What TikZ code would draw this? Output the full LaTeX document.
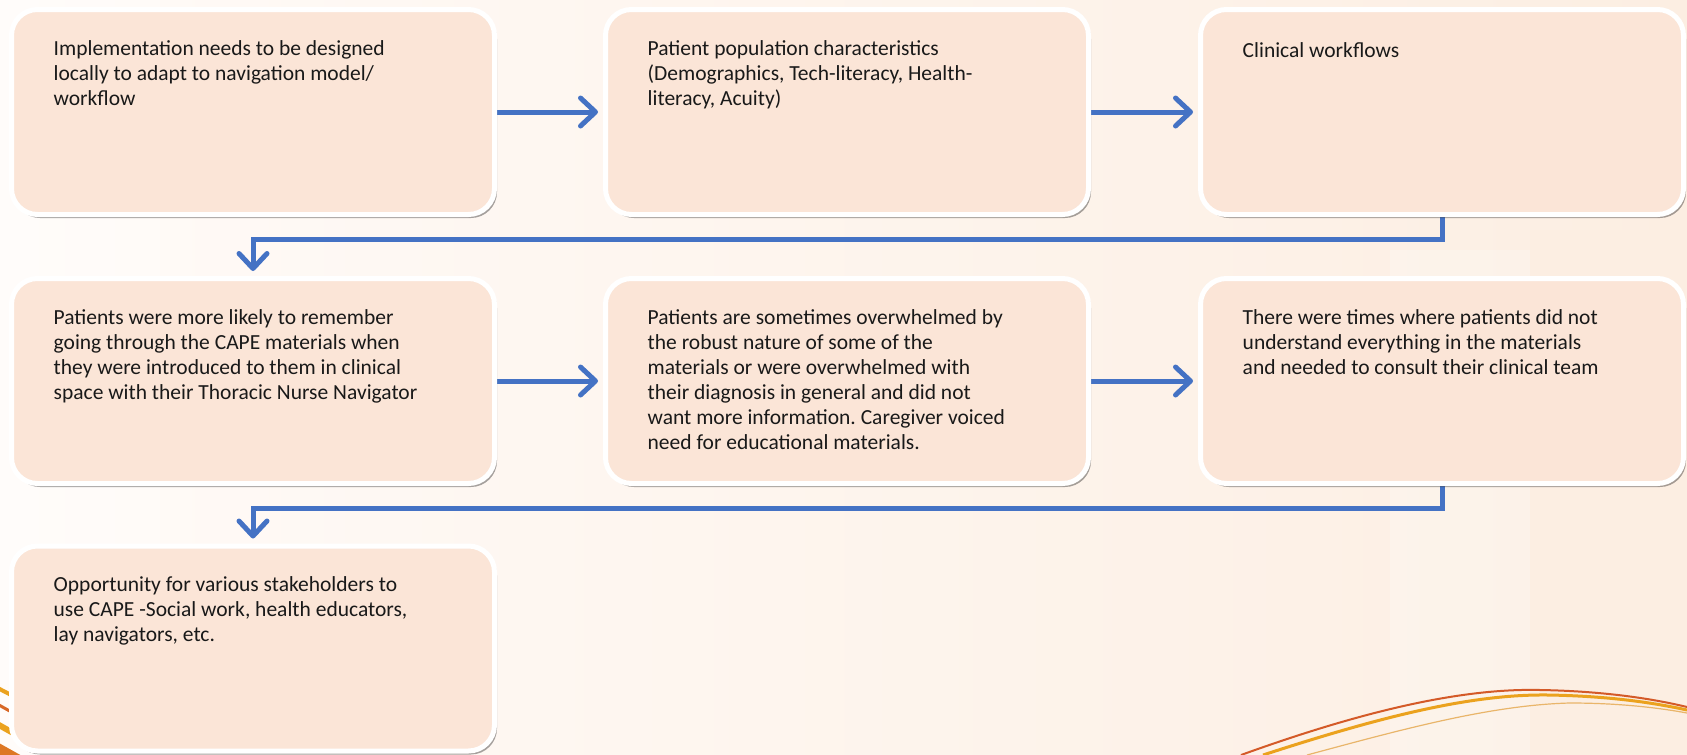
\documentclass[tikz,border=0pt]{standalone}
\usepackage{fontspec}
\setmainfont{Carlito}
\usetikzlibrary{arrows.meta,shadows,calc}
\frenchspacing
\definecolor{boxfill}{HTML}{FBE5D7}
\definecolor{arrowblue}{HTML}{4472C4}
\definecolor{bgA}{HTML}{FFFBF8}
\definecolor{bgB}{HTML}{FCEEE2}
\definecolor{swRed}{HTML}{D45A28}
\definecolor{swGold}{HTML}{EBA21E}
\definecolor{swLight}{HTML}{E9B56A}
\pgfdeclarelayer{back}
\pgfdeclarelayer{lines}
\pgfsetlayers{back,lines,main}
\tikzset{
  card/.style={rectangle, rounded corners=26pt, fill=boxfill, draw=white,
    line width=5pt, minimum width=483pt, minimum height=205pt, inner sep=0pt,
    drop shadow={shadow xshift=2.5pt, shadow yshift=-3.5pt, fill=black, opacity=0.35}},
  cardtext/.style={anchor=north west, align=left, inner sep=0pt,
    font=\fontsize{21.5pt}{25pt}\selectfont, text=black!90,
    execute at begin node={\strut}},
  flow/.style={draw=arrowblue, line width=5pt,
    -{Straight Barb[length=15pt,width=28pt,round]}, shorten >=5pt},
}
\begin{document}
\begin{tikzpicture}[x=1pt,y=-1pt]
\useasboundingbox (0,0) rectangle (1687,755);
\begin{pgfonlayer}{back}
  \begin{scope}
  \clip (0,0) rectangle (1687,755);
  \shade[left color=bgA, right color=bgB] (0,0) rectangle (1687,755);
  \fill[white, opacity=0.2] (1390,250) rectangle (1530,755);
  \fill[bgB, opacity=0.5] (1530,230) rectangle (1687,755);
  \fill[white, opacity=0.3] (0,0) rectangle (160,755);
  % bottom-left swoosh
  \draw[swGold, line width=4pt] (-10,684) -- (40,710);
  \draw[swRed!80!swGold, line width=3pt] (-10,700) -- (40,728);
  \draw[swGold, line width=6pt] (-10,720) -- (40,748);
  \fill[swRed!60!swGold] (-10,738) -- (40,766) -- (-10,766) -- cycle;
  % bottom-right swoosh
  \draw[swRed, line width=2pt] (1241,755) .. controls (1360,712) and (1460,688) .. (1540,690)
     .. controls (1600,691) and (1650,698) .. (1687,707);
  \draw[swGold, line width=3pt] (1263,755) .. controls (1380,717) and (1470,694) .. (1548,695)
     .. controls (1610,696) and (1655,703) .. (1687,710);
  \draw[swLight, line width=1.2pt] (1307,755) .. controls (1400,730) and (1490,705) .. (1570,703)
     .. controls (1620,703) and (1660,708) .. (1687,713);
  \end{scope}
\end{pgfonlayer}

\node[card] (b1) at (253,112) {};
\node[card] (b2) at (847,112) {};
\node[card] (b3) at (1442,112) {};
\node[card] (b4) at (253,381) {};
\node[card] (b5) at (847,381) {};
\node[card] (b6) at (1442,381) {};
\node[card] (b7) at (253,648.5) {};

\node[cardtext] (t1) at ($(b1.north west)+(44.5,33)$) {Implementation needs to be designed\\locally to adapt to navigation model/\\workflow};
\node[cardtext] (t2) at ($(b2.north west)+(44.5,33)$) {Patient population characteristics\\(Demographics, Tech-literacy, Health-\\literacy, Acuity)};
\node[cardtext] (t3) at ($(b3.north west)+(44.5,33)$) {Clinical workflows};
\node[cardtext] (t4) at ($(b4.north west)+(44.5,33)$) {Patients were more likely to remember\\going through the CAPE materials when\\they were introduced to them in clinical\\space with their Thoracic Nurse Navigator};
\node[cardtext] (t5) at ($(b5.north west)+(44.5,33)$) {Patients are sometimes overwhelmed by\\the robust nature of some of the\\materials or were overwhelmed with\\their diagnosis in general and did not\\want more information. Caregiver voiced\\need for educational materials.};
\node[cardtext] (t6) at ($(b6.north west)+(44.5,33)$) {There were times where patients did not\\understand everything in the materials\\and needed to consult their clinical team};
\node[cardtext] (t7) at ($(b7.north west)+(44.5,33)$) {Opportunity for various stakeholders to\\use CAPE -Social work, health educators,\\lay navigators, etc.};

\begin{pgfonlayer}{lines}
  \draw[flow] (b1) -- (b2);
  \draw[flow] (b2) -- (b3);
  \draw[flow] (b4) -- (b5);
  \draw[flow] (b5) -- (b6);
  \draw[flow] (b3.south) -- ++(0,22.5) -| (b4.north);
  \draw[flow] (b6.south) -- ++(0,22.5) -| (b7.north);
\end{pgfonlayer}
\end{tikzpicture}
\end{document}
